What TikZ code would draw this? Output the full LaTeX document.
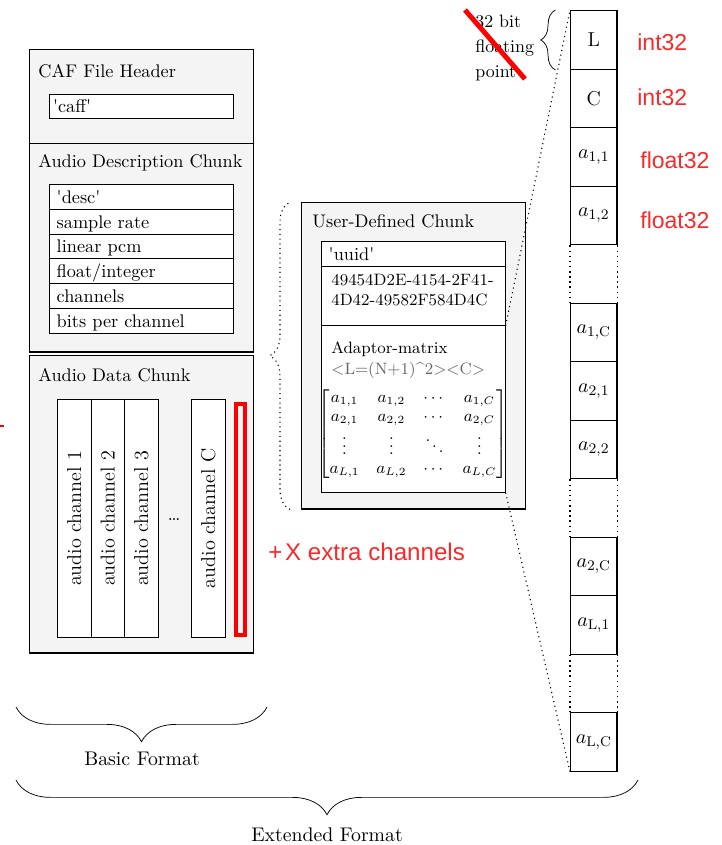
\documentclass[tikz,border=0pt]{standalone}
\usepackage{amsmath,graphicx}
\usepackage{fontspec}
\newfontfamily\lblfont{Liberation Sans}
\definecolor{chunkgray}{RGB}{244,244,244}
\definecolor{lblred}{RGB}{250,40,40}
\usetikzlibrary{positioning,decorations.pathreplacing}

\begin{document}
\begin{tikzpicture}[x=0.547pt, y=-0.547pt,
  chunk/.style={rectangle, draw, thick, fill=chunkgray, anchor=north west,
                minimum width=122.5pt, inner sep=0},
  ctitle/.style={anchor=base west, inner sep=0},
  fieldbox/.style={rectangle, draw, fill=white, anchor=north west,
                   text width=92.6pt, inner xsep=4pt, inner ysep=0, align=left,
                   minimum height=13.6pt},
  field/.style={fieldbox, text height=8pt, text depth=1pt},
  chan/.style={rectangle, draw, fill=white, anchor=north west,
               minimum width=18.4pt, minimum height=130.2pt, inner sep=0,
               font=\fontsize{11}{13}\selectfont},
  cell/.style={rectangle, draw, thick, anchor=north west,
               minimum width=25.2pt, minimum height=32pt, inner sep=0,
               font=\fontsize{11}{13}\selectfont},
  lbl/.style={anchor=base west, inner sep=0, text=lblred,
              font=\lblfont\fontsize{12.6}{15}\selectfont},
  gapline/.style={dotted, thick},
  zoomline/.style={dotted, line width=0.6pt},
  bracedown/.style={decorate, decoration={brace, mirror, amplitude=19pt}}
]
\useasboundingbox (0,0) rectangle (722,845);

% CAF file header
\node[chunk, minimum height=51.4pt] (hdr) at (29,49) {};
\node[ctitle] (thdr) at (38,77) {CAF File Header};
\node[field, minimum height=13.1pt, inner xsep=2pt, text width=96.6pt] (caff) at (49,94) {\textquotesingle caff\textquotesingle};

% Audio description chunk
\node[chunk, minimum height=113.8pt] (adc) at (29,143) {};
\node[ctitle] (tadc) at (38,167) {Audio Description Chunk};
\foreach \txt [count=\i from 0] in {\textquotesingle desc\textquotesingle, sample rate, linear pcm, float/integer, channels, bits per channel}
  \node[field] (desc\i) at (49,{184+24.8*\i}) {\txt};

% Audio data chunk
\node[chunk, minimum height=162.5pt] (adat) at (29,355) {};
\node[ctitle] (tadat) at (38,381) {Audio Data Chunk};
\foreach \n [count=\i from 0] in {1,2,3}
  \node[chan] (ch\n) at ({57+33.6*\i},399) {\rotatebox{90}{audio channel \n}};
\node[inner sep=0, font=\fontsize{11}{13}\selectfont] (cdots) at (174,520) {\dots};
\node[chan] (chC) at (191,399) {\rotatebox{90}{audio channel C}};
\node[draw=red, line width=2.2pt, anchor=north west, minimum width=4.9pt,
      minimum height=126.4pt, inner sep=0] (xtra) at (234,402) {};
\node[lbl, font=\lblfont\fontsize{13.2}{15}\selectfont] (txtra) at (268,560) {+\hspace{1.5pt}X extra channels};
\draw[red, line width=1.2pt] (0,426) -- (4,426);

% User-defined chunk
\node[chunk, minimum height=167.4pt] (udc) at (301,202) {};
\node[ctitle] (tudc) at (312,227) {User-Defined Chunk};
\node[field, minimum height=13.7pt] (uuid) at (321,241) {\textquotesingle uuid\textquotesingle};
\node[fieldbox, minimum height=32.3pt] (uval) at (321,266) {};
\node[anchor=north west, inner sep=0, align=left, font=\small] (tuval) at (331,274)
  {49454D2E-4154-2F41-\\4D42-49582F584D4C};
\node[fieldbox, minimum height=91.3pt] (adapt) at (321,325) {};
\node[anchor=north west, inner sep=0, align=left, font=\fontsize{9}{11.5}\selectfont] (tadapt) at (331,341)
  {Adaptor-matrix\\\textcolor{black!60}{<L=(N+1)\textasciicircum 2><C>}};
\node[inner sep=0, font=\small] (amat) at (413,434)
  {\renewcommand{\arraystretch}{0.95}\setlength{\arraycolsep}{4.6pt}$\begin{bmatrix}
    a_{1,1} & a_{1,2} & \cdots & a_{1,C}\\
    a_{2,1} & a_{2,2} & \cdots & a_{2,C}\\
    \vdots  & \vdots  & \ddots & \vdots \\
    a_{L,1} & a_{L,2} & \cdots & a_{L,C}
  \end{bmatrix}$};
\draw[zoomline, decorate, decoration={brace, amplitude=11pt}]
  ([xshift=-6pt]udc.south west) -- ([xshift=-6pt]udc.north west);

% Serialised values
\foreach \k/\val in {0/L, 1/C, 2/{$a_{1,1}$}, 3/{$a_{1,2}$}, 5/{$a_{1,\mathrm{C}}$},
                     6/{$a_{2,1}$}, 7/{$a_{2,2}$}, 9/{$a_{2,\mathrm{C}}$},
                     10/{$a_{\mathrm{L},1}$}, 12/{$a_{\mathrm{L},\mathrm{C}}$}}
  \node[cell] (c\k) at (570,{10+58.5*\k}) {\val};
\foreach \k in {4,8,11} {
  \pgfmathtruncatemacro{\kp}{\k-1}
  \pgfmathtruncatemacro{\kn}{\k+1}
  \draw[gapline] (c\kp.south west) -- (c\kn.north west);
  \draw[gapline] (c\kp.south east) -- (c\kn.north east);
}
\draw[zoomline] (uval.south east) -- (c0.north west);
\draw[zoomline] (adapt.south east) -- (c12.south west);

% Types
\node[lbl] (ty0) at (637,50) {int32};
\node[lbl] (ty1) at (637,105) {int32};
\node[lbl] (ty2) at (640,168) {float32};
\node[lbl] (ty3) at (640,228) {float32};
\node[anchor=north west, inner sep=0, align=left, font=\fontsize{9.8}{13.7}\selectfont] (fpt) at (475,15)
  {32 bit\\floating\\point};
\draw[decorate, decoration={brace, amplitude=8pt}]
  ([xshift=-8pt]c0.south west) -- ([xshift=-8pt]c0.north west);
\draw[red, line width=2.7pt] (465,10) -- (525,79);

% Formats
\draw[bracedown] (16,707) -- (267,707);
\node[font=\fontsize{10.8}{13}\selectfont] (bfmt) at (142,759) {Basic Format};
\draw[bracedown] (16,780) -- (638,780);
\node[font=\fontsize{10.8}{13}\selectfont] (efmt) at (327,835) {Extended Format};
\end{tikzpicture}
\end{document}
